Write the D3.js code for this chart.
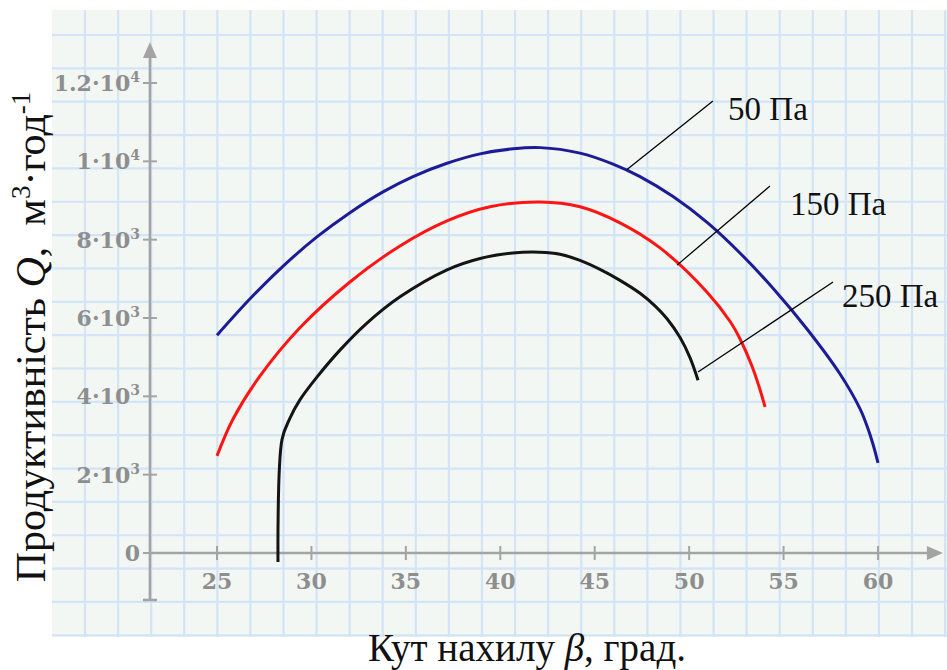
<!DOCTYPE html>
<html>
<head>
<meta charset="utf-8">
<script src="https://cdn.jsdelivr.net/npm/d3@7"></script>
<style>
  html, body { margin: 0; padding: 0; background: #ffffff; }
  svg { display: block; }
</style>
</head>
<body>
<svg id="chart" width="947" height="670"></svg>
<script>
// Productivity Q (m³/h) versus tilt angle β (deg) for three pressures
const beta50  = [25.0, 26.75, 28.49, 30.29, 32.04, 33.79, 35.38, 37.18, 38.93, 40.68, 42.10, 44.22, 45.97, 47.40, 49.15, 50.95, 52.69, 54.44, 56.24, 57.99, 59.05, 59.42, 59.74, 60.0];
const q50     = [5560, 6490, 7320, 8070, 8690, 9220, 9610, 9950, 10190, 10320, 10350, 10210, 9930, 9610, 9100, 8440, 7660, 6760, 5720, 4570, 3680, 3240, 2770, 2300];

const beta150 = [25.0, 25.85, 27.28, 29.39, 32.04, 34.69, 37.18, 39.46, 42.10, 44.22, 46.34, 48.46, 50.95, 52.17, 52.69, 53.33, 53.70, 54.02];
const q150    = [2480, 3420, 4520, 5750, 6920, 7840, 8480, 8840, 8960, 8840, 8430, 7790, 6660, 5910, 5470, 4770, 4250, 3730];

const beta250 = [28.23, 28.44, 28.87, 29.39, 30.29, 31.51, 32.94, 34.69, 37.18, 38.93, 40.67, 42.10, 43.16, 44.22, 45.28, 46.34, 47.40, 48.19, 48.83, 49.52, 50.05, 50.47];
const q250    = [-230, 2890, 3450, 3910, 4490, 5180, 5870, 6540, 7230, 7520, 7660, 7680, 7630, 7470, 7240, 6960, 6630, 6310, 5980, 5500, 4980, 4410];

const seriesNames  = ["50 Па", "150 Па", "250 Па"];
const seriesColors = ["#1c1c96", "#ff1414", "#141414"];

// Tick values and their labels (mantissa · 10^exponent)
const xTicks   = [25, 30, 35, 40, 45, 50, 55, 60];
const yTicks   = [0, 2000, 4000, 6000, 8000, 10000, 12000];
const yTickMan = ["0", "2", "4", "6", "8", "1", "1.2"];
const yTickExp = ["", "3", "3", "3", "3", "4", "4"];

// Axis extents (the axes run a little beyond the ticks)
const xAxisMin = 21.45, xAxisMax = 63.44;
const yAxisMin = -1200, yAxisMax = 13050;

// Leader lines: start on curve, end near label; label anchor positions
const leadFrom = [[46.71, 9790], [49.36, 7350], [50.47, 4620]];
const leadTo   = [[51.26, 11540], [54.28, 9370], [57.62, 6920]];
const labelAt  = [[52.06, 11060], [55.34, 8630], [58.09, 6280]];

const svg = d3.select("#chart");

const x = d3.scaleLinear().domain([25, 60]).range([217, 878]);
const y = d3.scaleLinear().domain([0, 12000]).range([553, 83]);

// Graph-paper background
const paper = { left: 52, top: 10, right: 947, bottom: 637 };
svg.append("rect")
  .attr("x", paper.left).attr("y", paper.top)
  .attr("width", paper.right - paper.left).attr("height", paper.bottom - paper.top)
  .attr("fill", "#f3f7f3");

const gridG = svg.append("g").attr("stroke", "#d2e4f6").attr("stroke-width", 2.2);
d3.range(85, paper.right, 33.08).forEach(gx => {
  gridG.append("line").attr("x1", gx).attr("x2", gx).attr("y1", paper.top).attr("y2", paper.bottom);
});
d3.range(35, paper.bottom, 33.35).forEach(gy => {
  gridG.append("line").attr("x1", paper.left).attr("x2", paper.right).attr("y1", gy).attr("y2", gy);
});

// Axes
const axisColor = "#a4a4a4";
const axG = svg.append("g").attr("stroke", axisColor).attr("stroke-width", 2.6).attr("fill", "none");
const x0 = x(xAxisMin), y0 = y(0);
axG.append("line").attr("x1", x0).attr("x2", x(xAxisMax) - 10).attr("y1", y0).attr("y2", y0);
axG.append("line").attr("x1", x0).attr("x2", x0).attr("y1", y(yAxisMin)).attr("y2", y(yAxisMax) + 10);
// end cap at bottom of vertical axis
axG.append("line").attr("x1", x0 - 7).attr("x2", x0 + 7).attr("y1", y(yAxisMin)).attr("y2", y(yAxisMin));

// arrow heads
svg.append("path")
  .attr("d", `M${x(xAxisMax)},${y0} L${x(xAxisMax) - 16},${y0 - 7} L${x(xAxisMax) - 16},${y0 + 7} Z`)
  .attr("fill", axisColor);
svg.append("path")
  .attr("d", `M${x0},${y(yAxisMax)} L${x0 - 7},${y(yAxisMax) + 16} L${x0 + 7},${y(yAxisMax) + 16} Z`)
  .attr("fill", axisColor);

// tick marks
xTicks.forEach(t => {
  axG.append("line").attr("x1", x(t)).attr("x2", x(t)).attr("y1", y0 - 7).attr("y2", y0 + 7).attr("stroke-width", 2);
});
yTicks.forEach(t => {
  axG.append("line").attr("x1", x0 - 7).attr("x2", x0 + 7).attr("y1", y(t)).attr("y2", y(t)).attr("stroke-width", 2);
});

// tick labels
const tickFont = "'DejaVu Serif', serif";
const tickColor = "#8e8e8e";
svg.append("g").selectAll("text").data(xTicks).join("text")
  .attr("x", d => x(d)).attr("y", y0 + 36)
  .attr("text-anchor", "middle")
  .attr("font-family", tickFont).attr("font-size", 22).attr("font-weight", "bold").attr("fill", tickColor)
  .text(d => d);

const yLab = svg.append("g").selectAll("text").data(yTicks).join("text")
  .attr("x", x0 - 10).attr("y", d => y(d) + 8)
  .attr("text-anchor", "end")
  .attr("font-family", tickFont).attr("font-size", 22).attr("font-weight", "bold").attr("fill", tickColor);
yLab.each(function (d, i) {
  const t = d3.select(this);
  if (yTickExp[i] === "") { t.text(yTickMan[i]); return; }
  t.append("tspan").text(yTickMan[i] + "·10");
  t.append("tspan").attr("dy", -9).attr("font-size", 14).text(yTickExp[i]);
});

// curves
const line = d3.line()
  .x(d => x(d[0])).y(d => y(d[1]))
  .curve(d3.curveCatmullRom.alpha(0.5));
const seriesData = [
  d3.zip(beta50, q50),
  d3.zip(beta150, q150),
  d3.zip(beta250, q250)
];
svg.append("g").selectAll("path").data(seriesData).join("path")
  .attr("d", line)
  .attr("fill", "none")
  .attr("stroke", (d, i) => seriesColors[i])
  .attr("stroke-width", 3)
  .attr("stroke-linejoin", "round")
  .attr("stroke-linecap", "butt");

// leader lines and series labels
const labelFont = "'Liberation Serif', 'Times New Roman', serif";
seriesNames.forEach((name, i) => {
  svg.append("line")
    .attr("x1", x(leadFrom[i][0])).attr("y1", y(leadFrom[i][1]))
    .attr("x2", x(leadTo[i][0])).attr("y2", y(leadTo[i][1]))
    .attr("stroke", "#000").attr("stroke-width", 1.3);
  svg.append("text")
    .attr("x", x(labelAt[i][0])).attr("y", y(labelAt[i][1]))
    .attr("font-family", labelFont).attr("font-size", 33).attr("fill", "#111")
    .text(name);
});

// axis titles
const xTitle = svg.append("text")
  .attr("x", 527).attr("y", 661)
  .attr("text-anchor", "middle")
  .attr("font-family", labelFont).attr("font-size", 39).attr("fill", "#111");
xTitle.append("tspan").text("Кут нахилу ");
xTitle.append("tspan").attr("font-style", "italic").text("β");
xTitle.append("tspan").text(", град.");

const yTitle = svg.append("text")
  .attr("transform", "translate(45,337) rotate(-90)")
  .attr("text-anchor", "middle")
  .attr("font-family", labelFont).attr("font-size", 42).attr("fill", "#111");
yTitle.append("tspan").text("Продуктивність ");
yTitle.append("tspan").attr("font-style", "italic").text("Q");
yTitle.append("tspan").text(",\u00a0\u00a0м");
yTitle.append("tspan").attr("dy", -15).attr("font-size", 27).text("3");
yTitle.append("tspan").attr("dy", 15).text("·год");
yTitle.append("tspan").attr("dy", -15).attr("font-size", 27).text("-1");
</script>
</body>
</html>
